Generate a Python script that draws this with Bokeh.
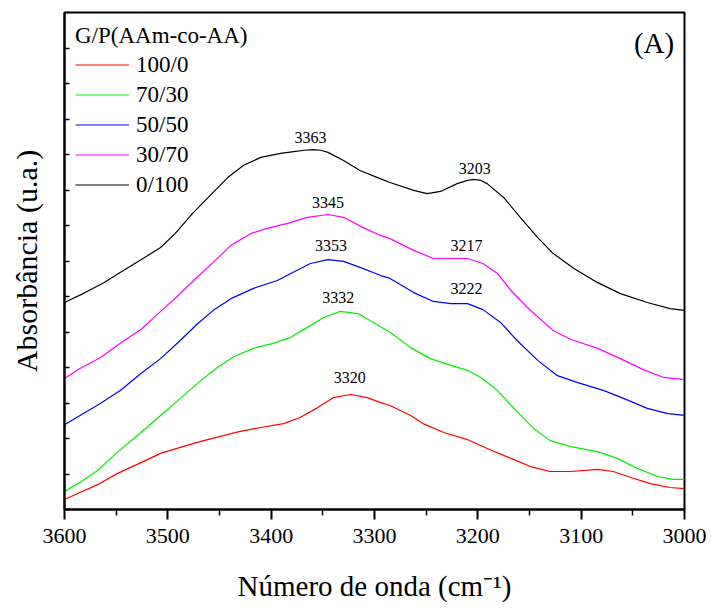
from bokeh.plotting import figure
from bokeh.models import (Range1d, Legend, LegendItem, FixedTicker,
                          CustomJSTickFormatter, ColumnDataSource, Label)
from bokeh.embed import file_html
from bokeh.resources import INLINE
from bokeh.core.properties import value

FONT = "Liberation Serif"

# ---------------- data ----------------
series_names = ["100/0", "70/30", "50/50", "30/70", "0/100"]
series_colors = ["#FF0000", "#00EE00", "#0000FF", "#FF00FF", "#000000"]

wn_red = [3600, 3585, 3568, 3549, 3526, 3507, 3488, 3468, 3449, 3430, 3410, 3388, 3372,
          3355, 3340, 3323, 3307, 3294, 3285, 3265, 3253, 3233, 3210, 3191, 3168, 3149,
          3130, 3110, 3084, 3069, 3052, 3033, 3014, 3000]
abs_red = [0.28, 0.48, 0.70, 1.01, 1.32, 1.58, 1.75, 1.92, 2.06, 2.20, 2.31, 2.42, 2.59,
           2.87, 3.15, 3.24, 3.15, 3.01, 2.93, 2.65, 2.42, 2.17, 1.97, 1.72, 1.44, 1.21,
           1.07, 1.07, 1.13, 1.07, 0.90, 0.73, 0.62, 0.59]

wn_green = [3600, 3585, 3568, 3549, 3526, 3507, 3488, 3468, 3452, 3436, 3417, 3398, 3381,
            3365, 3349, 3333, 3316, 3301, 3285, 3265, 3246, 3226, 3210, 3197, 3181, 3165,
            3146, 3130, 3110, 3084, 3065, 3045, 3026, 3011, 3000]
abs_green = [0.51, 0.76, 1.10, 1.61, 2.17, 2.65, 3.13, 3.63, 4.00, 4.31, 4.54, 4.68, 4.85,
             5.13, 5.41, 5.58, 5.52, 5.27, 4.99, 4.56, 4.25, 4.06, 3.92, 3.72, 3.35, 2.85,
             2.28, 1.94, 1.77, 1.63, 1.44, 1.15, 0.93, 0.85, 0.85]

wn_blue = [3600, 3585, 3565, 3546, 3526, 3507, 3488, 3471, 3456, 3439, 3417, 3394, 3381,
           3362, 3345, 3330, 3314, 3294, 3285, 3262, 3243, 3226, 3210, 3195, 3178, 3162,
           3142, 3123, 3104, 3078, 3059, 3036, 3016, 3000]
abs_blue = [2.39, 2.65, 2.99, 3.35, 3.83, 4.25, 4.76, 5.24, 5.61, 5.94, 6.23, 6.45, 6.65,
            6.93, 7.04, 6.99, 6.82, 6.59, 6.51, 6.11, 5.86, 5.80, 5.80, 5.63, 5.27, 4.76,
            4.20, 3.77, 3.58, 3.35, 3.13, 2.85, 2.70, 2.65]

wn_magenta = [3600, 3585, 3565, 3546, 3526, 3507, 3491, 3475, 3456, 3439, 3420, 3404, 3384,
              3365, 3345, 3330, 3311, 3294, 3285, 3262, 3243, 3226, 3210, 3195, 3181, 3168,
              3152, 3127, 3110, 3084, 3062, 3040, 3020, 3000]
abs_magenta = [3.69, 3.97, 4.28, 4.68, 5.07, 5.58, 6.00, 6.45, 6.96, 7.44, 7.77, 7.92, 8.06,
               8.23, 8.31, 8.23, 7.94, 7.72, 7.63, 7.30, 7.07, 7.07, 7.07, 6.93, 6.65, 6.17,
               5.69, 5.04, 4.79, 4.54, 4.25, 3.94, 3.72, 3.66]

wn_black = [3600, 3580, 3562, 3543, 3524, 3507, 3493, 3476, 3459, 3442, 3427, 3410, 3391,
            3378, 3368, 3359, 3352, 3345, 3330, 3314, 3297, 3285, 3262, 3249, 3236, 3220,
            3210, 3204, 3197, 3191, 3175, 3159, 3142, 3127, 3107, 3084, 3062, 3036, 3014, 3000]
abs_black = [5.83, 6.11, 6.39, 6.73, 7.07, 7.38, 7.77, 8.34, 8.85, 9.35, 9.69, 9.92, 10.03,
             10.08, 10.12, 10.14, 10.12, 10.06, 9.83, 9.55, 9.35, 9.21, 8.99, 8.90, 8.96, 9.18,
             9.27, 9.30, 9.27, 9.18, 8.79, 8.23, 7.66, 7.21, 6.79, 6.39, 6.08, 5.83, 5.66, 5.61]

# peak annotations
peak_labels = ["3363", "3203", "3345", "3217", "3353", "3222", "3332", "3320"]
peak_x = [3362, 3203, 3345, 3211, 3342, 3211, 3335, 3324]
peak_y = [10.48, 9.61, 8.65, 7.44, 7.44, 6.23, 5.97, 3.72]

x_ticks = [3600, 3500, 3400, 3300, 3200, 3100, 3000]
x_minor = [3550, 3450, 3350, 3250, 3150, 3050]
y_ticks = list(range(0, 15))

legend_title = "G/P(AAm-co-AA)"
panel_label = "(A)"
x_title = "Número de onda (cm⁻¹)"
y_title = "Absorbância (u.a.)"

# ---------------- figure ----------------
p = figure(width=712, height=611,
           x_range=Range1d(3600, 3000), y_range=Range1d(0, 14),
           output_backend="svg", toolbar_location=None,
           min_border_left=64, min_border_right=28,
           min_border_top=12, min_border_bottom=102)

p.xgrid.visible = False
p.ygrid.visible = False
p.outline_line_color = "black"
p.outline_line_width = 2
p.outline_line_alpha = 1
p.background_fill_color = "white"
p.border_fill_color = "white"

xs = [wn_red, wn_green, wn_blue, wn_magenta, wn_black]
ys = [abs_red, abs_green, abs_blue, abs_magenta, abs_black]
renderers = []
for x, y, c in zip(xs, ys, series_colors):
    r = p.line(x, y, line_color=c, line_width=1.2, line_join="round")
    renderers.append(r)

src = ColumnDataSource(dict(x=peak_x, y=peak_y, t=peak_labels))
p.text(x="x", y="y", text="t", source=src, text_align="center",
       text_baseline="middle", text_font=value(FONT),
       text_font_size="16px", text_color="black")

# x axis
xa = p.xaxis[0]
xa.ticker = FixedTicker(ticks=x_ticks, minor_ticks=x_minor)
xa.axis_line_width = 2
xa.major_tick_line_width = 2
xa.minor_tick_line_width = 1.5
xa.major_tick_out = 10
xa.major_tick_in = 0
xa.minor_tick_out = 6
xa.minor_tick_in = 0
xa.major_label_text_font = FONT
xa.major_label_text_font_size = "22px"
xa.major_label_text_color = "black"
xa.major_label_standoff = 9
xa.axis_label = x_title
xa.axis_label_text_font = FONT
xa.axis_label_text_font_size = "29px"
xa.axis_label_text_font_style = "normal"
xa.axis_label_text_color = "black"
xa.axis_label_standoff = 24

# y axis
ya = p.yaxis[0]
ya.ticker = FixedTicker(ticks=y_ticks, minor_ticks=[])
ya.formatter = CustomJSTickFormatter(code="return ''")
ya.axis_line_width = 2
ya.major_tick_line_width = 1.5
ya.major_tick_in = 5
ya.major_tick_out = 0
ya.minor_tick_line_color = None
ya.major_label_standoff = 0
ya.axis_label = y_title
ya.axis_label_text_font = FONT
ya.axis_label_text_font_size = "30px"
ya.axis_label_text_font_style = "normal"
ya.axis_label_text_color = "black"
ya.axis_label_standoff = 22

legend = Legend(items=[LegendItem(label=n, renderers=[r])
                       for n, r in zip(series_names, renderers)],
                location="top_left", title=legend_title)
legend.title_text_font = FONT
legend.title_text_font_size = "23px"
legend.title_text_font_style = "normal"
legend.title_text_color = "black"
legend.title_standoff = 2
legend.label_text_font = FONT
legend.label_text_font_size = "23px"
legend.label_text_color = "black"
legend.label_standoff = 7
legend.glyph_width = 54
legend.glyph_height = 27
legend.label_height = 27
legend.spacing = 3
legend.padding = 10
legend.margin = 1
legend.border_line_alpha = 0
legend.background_fill_alpha = 0
p.add_layout(legend)

p.add_layout(Label(x=3010, y=13.13, text=panel_label, text_align="right",
                   text_baseline="middle", text_font=FONT,
                   text_font_size="29px", text_color="black"))

open("out.html", "w").write(file_html(p, INLINE))
